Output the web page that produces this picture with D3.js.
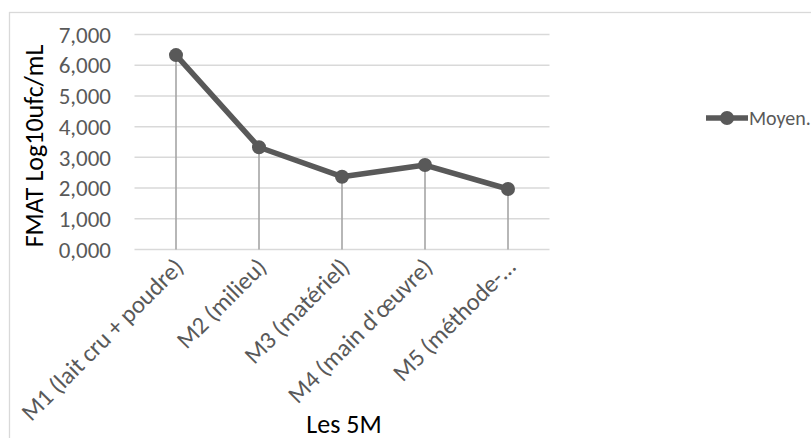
<!DOCTYPE html>
<html>
<head>
<meta charset="utf-8">
<script src="https://cdn.jsdelivr.net/npm/d3@7"></script>
<style>
  html, body { margin: 0; padding: 0; background: #fff; }
  svg { display: block; font-family: Carlito, Calibri, Lato, "Liberation Sans", sans-serif; }
</style>
</head>
<body>
<svg id="chart" width="811" height="438"></svg>
<script>
// Mean FMAT counts (log10 ufc/mL) for each of the 5M sources
const categories = ["M1 (lait cru + poudre)", "M2 (milieu)", "M3 (matériel)", "M4 (main d'œuvre)", "M5 (méthode-…"];
const moyen = [6.33, 3.33, 2.37, 2.75, 1.97];
const yTicks = [0, 1, 2, 3, 4, 5, 6, 7];
const seriesName = "Moyen.";
const yTitle = "FMAT Log10ufc/mL";
const xTitle = "Les 5M";

const svg = d3.select("#chart");
const plot = { left: 134.5, right: 549.5, top: 34.5, bottom: 249.5 };

const x = d3.scaleBand().domain(categories).range([plot.left, plot.right]);
const y = d3.scaleLinear().domain([0, 7]).range([plot.bottom, plot.top]);
const cx = d => x(d) + x.bandwidth() / 2;
const fmt = v => d3.format(".3f")(v).replace(".", ",");

// chart frame
svg.append("rect")
  .attr("x", 9.5).attr("y", 12.5).attr("width", 820).attr("height", 440)
  .attr("fill", "none").attr("stroke", "#d9d9d9").attr("stroke-width", 1.3);

// horizontal gridlines
svg.append("g").selectAll("line").data(yTicks).join("line")
  .attr("x1", plot.left).attr("x2", plot.right)
  .attr("y1", d => y(d)).attr("y2", d => y(d))
  .attr("stroke", "#d9d9d9").attr("stroke-width", 1.5);

// y tick labels
svg.append("g").selectAll("text").data(yTicks).join("text")
  .attr("x", 111).attr("y", d => y(d)).attr("dy", "0.36em")
  .attr("text-anchor", "end").attr("fill", "#595959").attr("font-size", 23)
  .text(fmt);

// drop lines from each point to the axis
svg.append("g").selectAll("line").data(categories).join("line")
  .attr("x1", cx).attr("x2", cx)
  .attr("y1", (d, i) => y(moyen[i])).attr("y2", y(0))
  .attr("stroke", "#a5a5a5").attr("stroke-width", 1.6);

// series line and markers
const color = "#595959";
svg.append("path")
  .datum(moyen)
  .attr("d", d3.line().x((d, i) => cx(categories[i])).y(d => y(d)))
  .attr("fill", "none").attr("stroke", color).attr("stroke-width", 5.5)
  .attr("stroke-linejoin", "round");
svg.append("g").selectAll("circle").data(moyen).join("circle")
  .attr("cx", (d, i) => cx(categories[i])).attr("cy", d => y(d)).attr("r", 7)
  .attr("fill", color);

// category labels, rotated
svg.append("g").selectAll("text").data(categories).join("text")
  .attr("transform", d => `translate(${cx(d) + 9},${plot.bottom + 19}) rotate(-45)`)
  .attr("text-anchor", "end").attr("fill", "#595959").attr("font-size", 24.5)
  .text(d => d);

// axis titles
svg.append("text")
  .attr("transform", `translate(43,${(plot.top + plot.bottom) / 2 + 4}) rotate(-90)`)
  .attr("text-anchor", "middle").attr("fill", "#000").attr("font-size", 26)
  .text(yTitle);
svg.append("text")
  .attr("x", 344).attr("y", 433)
  .attr("text-anchor", "middle").attr("fill", "#000").attr("font-size", 26)
  .text(xTitle);

// legend
const lg = svg.append("g").attr("transform", "translate(706,118)");
lg.append("line").attr("x1", 0).attr("x2", 42).attr("y1", 0).attr("y2", 0)
  .attr("stroke", color).attr("stroke-width", 5.5);
lg.append("circle").attr("cx", 21).attr("cy", 0).attr("r", 7).attr("fill", color);
lg.append("text").attr("x", 43).attr("y", 0).attr("dy", "0.35em")
  .attr("fill", "#595959").attr("font-size", 20).text(seriesName);
</script>
</body>
</html>
